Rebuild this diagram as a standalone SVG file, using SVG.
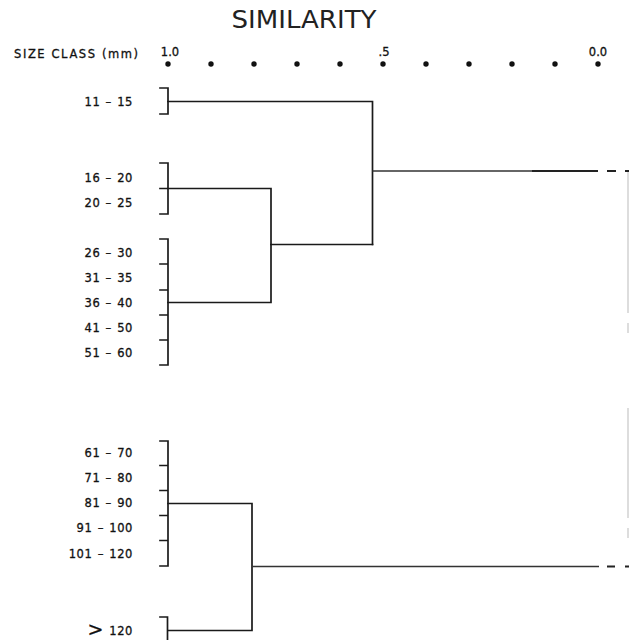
<svg xmlns="http://www.w3.org/2000/svg" width="629" height="640" viewBox="0 0 629 640">
<style>
.lbl{font-family:"DejaVu Sans","Liberation Sans",sans-serif;font-size:11.5px;fill:#111;stroke:#111;stroke-width:0.3;text-anchor:end;letter-spacing:0.6px;word-spacing:1px}
.ax{font-family:"DejaVu Sans","Liberation Sans",sans-serif;font-size:11.5px;fill:#111;stroke:#111;stroke-width:0.3}
.ln{stroke:#1a1a1a;stroke-width:1.7;fill:none;stroke-linecap:square}
.thin{stroke:#333;stroke-width:1.3;fill:none}
.grey{stroke:#bbb;stroke-width:1;fill:none}
.dot{fill:#111}
</style>
<rect width="629" height="640" fill="#fff"/>
<g id="title">
<text x="304" y="28" font-family="DejaVu Sans,Liberation Sans,sans-serif" font-size="24" fill="#222" text-anchor="middle" textLength="145" lengthAdjust="spacingAndGlyphs">SIMILARITY</text>
</g>
<g id="axis">
<text class="ax" x="14" y="58" letter-spacing="1.6">SIZE CLASS (mm)</text>
<text class="ax" x="170" y="56" text-anchor="middle" font-size="10.5">1.0</text>
<text class="ax" x="384" y="56" text-anchor="middle" font-size="10.5">.5</text>
<text class="ax" x="598" y="56" text-anchor="middle" font-size="10.5">0.0</text>
<circle class="dot" cx="168" cy="64" r="2.7"/>
<circle class="dot" cx="211" cy="64" r="2.7"/>
<circle class="dot" cx="254" cy="64" r="2.7"/>
<circle class="dot" cx="297" cy="64" r="2.7"/>
<circle class="dot" cx="340" cy="64" r="2.7"/>
<circle class="dot" cx="383" cy="64" r="2.7"/>
<circle class="dot" cx="426" cy="64" r="2.7"/>
<circle class="dot" cx="469" cy="64" r="2.7"/>
<circle class="dot" cx="512" cy="64" r="2.7"/>
<circle class="dot" cx="555" cy="64" r="2.7"/>
<circle class="dot" cx="598" cy="64" r="2.7"/>
</g>
<g id="group1">
<path class="ln" d="M160 88 H168 V114 H160"/>
<text class="lbl" x="133" y="106">11 – 15</text>
</g>
<g id="group2">
<path class="ln" d="M160 163 H168 V214 H160 M160 188.5 H168"/>
<text class="lbl" x="133" y="182">16 – 20</text>
<text class="lbl" x="133" y="207">20 – 25</text>
</g>
<g id="group3">
<path class="ln" d="M160 239 H168 V365 H160 M160 264 H168 M160 290 H168 M160 315 H168 M160 340 H168"/>
<text class="lbl" x="133" y="257">26 – 30</text>
<text class="lbl" x="133" y="282">31 – 35</text>
<text class="lbl" x="133" y="307">36 – 40</text>
<text class="lbl" x="133" y="332">41 – 50</text>
<text class="lbl" x="133" y="357">51 – 60</text>
</g>
<g id="group4">
<path class="ln" d="M160 441 H168 V566 H160 M160 465.5 H168 M160 490.5 H168 M160 515.5 H168 M160 540.5 H168"/>
<text class="lbl" x="133" y="457">61 – 70</text>
<text class="lbl" x="133" y="482">71 – 80</text>
<text class="lbl" x="133" y="507">81 – 90</text>
<text class="lbl" x="133" y="532">91 – 100</text>
<text class="lbl" x="133" y="558">101 – 120</text>
</g>
<g id="group5">
<path class="ln" d="M160 617 H167.5 V645"/>
<text class="lbl" x="133" y="635"><tspan font-size="19" dy="1">&gt;</tspan><tspan dy="-1"> 120</tspan></text>
</g>
<g id="connectors">
<path class="ln" d="M168 101.5 H372.5 V244.5"/>
<path class="ln" d="M168 188.5 H271 V302.5 H168"/>
<path class="ln" d="M271 244.5 H372.5"/>
<path class="ln" d="M168 503.5 H252 V630.5 H168"/>
<path class="thin" d="M372.5 171 H532"/>
<path stroke="#222" stroke-width="2" d="M532 171 H598"/>
<path stroke="#222" stroke-width="2" d="M607 171 H616 M625 171 H629"/>
<path class="thin" d="M252 566.5 H599"/>
<path stroke="#222" stroke-width="2" d="M607 566.5 H615 M625 566.5 H629"/>
<path class="grey" d="M628 172 V313 M628 323 V333 M628 408 V518 M628 528 V538"/>
</g>
</svg>
